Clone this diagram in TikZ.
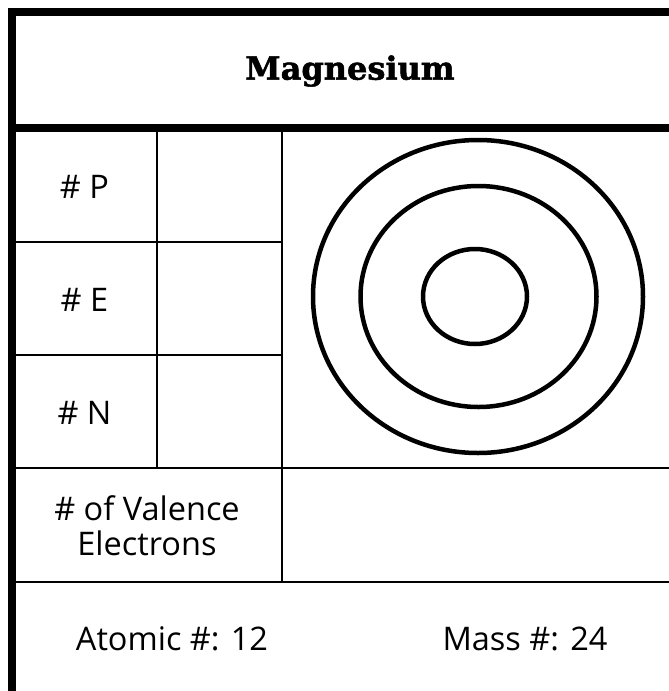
\documentclass[tikz,border=0pt]{standalone}
\usepackage{fontspec}
\setmainfont{Open Sans}
\newfontfamily\titlefont{DejaVu Serif}[BoldFeatures={FakeBold=1.6}]
\begin{document}
\begin{tikzpicture}[x=1pt,y=-1pt,
  thick line/.style={line width=8pt,line cap=rect},
  thin line/.style={line width=2.5pt},
  shell/.style={line width=4.5pt},
  label/.style={font=\fontsize{32.5}{35}\selectfont,align=center,inner sep=0pt},
  titletext/.style={font=\titlefont\bfseries\fontsize{32}{36}\selectfont,inner sep=0pt}]
\useasboundingbox (0,0) rectangle (669,691);
\fill[white] (0,0) rectangle (669,691);
% frame
\draw[thick line] (12,691) -- (12,12) -- (675,12);
\draw[line width=8pt] (12,128) -- (675,128);
% grid
\draw[thin line] (157,128) -- (157,468);
\draw[thin line] (282,128) -- (282,582);
\draw[thin line] (12,242) -- (282,242);
\draw[thin line] (12,355) -- (282,355);
\draw[thin line] (12,468) -- (675,468);
\draw[thin line] (12,582) -- (675,582);
% shells
\draw[shell] (478,296.5) ellipse [x radius=165, y radius=156.5];
\draw[shell] (478.5,296.5) ellipse [x radius=118, y radius=110.5];
\draw[shell] (475,296.5) ellipse [x radius=52, y radius=47.5];
% texts
\node[titletext] (title) at (350,71) {Magnesium};
\node[label] (p) at (84.5,187) {\# P};
\node[label] (e) at (84.5,300) {\# E};
\node[label] (n) at (84.5,413) {\# N};
\node[label] (val) at (147,526) {\# of Valence\\Electrons};
\node[label] (atomic) at (172,639) {Atomic \#: 12};
\node[label] (mass) at (525,639) {Mass \#: 24};
\end{tikzpicture}
\end{document}
